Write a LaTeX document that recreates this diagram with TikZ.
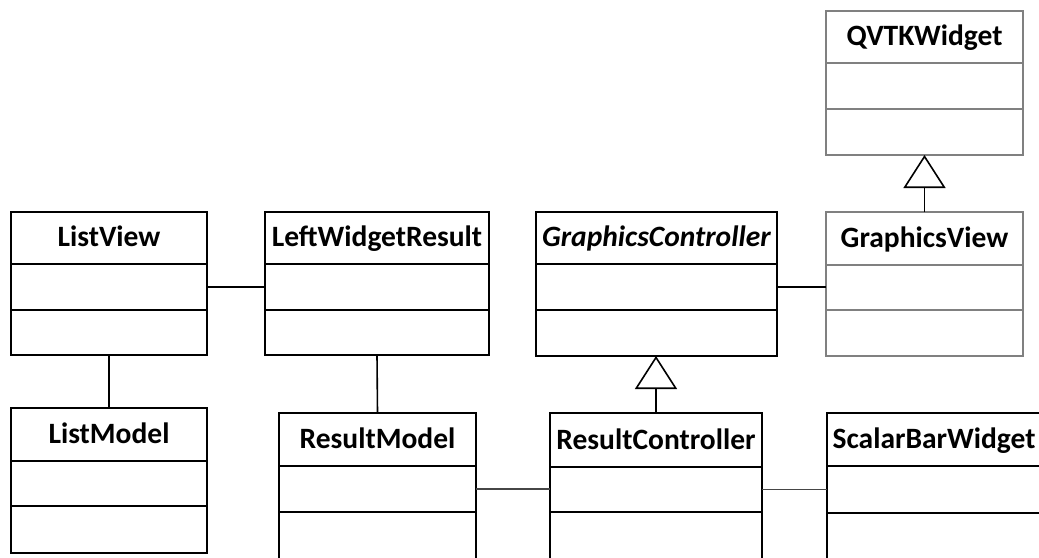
\documentclass[tikz,border=0pt]{standalone}
\usepackage{fontspec}
\setmainfont{Carlito}
\usetikzlibrary{arrows.meta,calc}
\definecolor{umlgray}{RGB}{128,128,128}
\definecolor{linkgray}{RGB}{70,70,70}
\tikzset{
  classbox/.style={draw=black, line width=2.6pt, fill=white, inner sep=0pt, outer sep=0pt},
  grayclass/.style={draw=umlgray},
  separator/.style={line width=2.2pt, draw=black},
  classtitle/.style={font=\bfseries\fontsize{29.5}{34}\selectfont, text=black,
    inner sep=0pt, anchor=base},
  assoc/.style={line width=1.6pt, draw=black},
  thinassoc/.style={line width=1.2pt, draw=linkgray},
  inherit/.style={line width=1.6pt, draw=black,
    -{Triangle[open, length=33pt, width=42pt, line width=1.6pt, fill=white]}},
}
% \umlclass{name}{left}{top}{right}{bottom}{sep1}{sep2}{title}{extra style}
\newcommand\umlclass[9]{%
  \node[classbox,#9, minimum width={(#4-#2)*1pt}, minimum height={(#5-#3)*1pt},
        anchor=north west] (#1) at (#2,#3) {};
  \draw[separator,#9] (#2,#6) -- (#4,#6) (#2,#7) -- (#4,#7);
  \node[classtitle] (#1-title) at ({(#2+#4)/2},{#6-17.5}) {#8};
  \coordinate (#1-attr) at ({(#2+#4)/2},{(#6+#7)/2});
}
\begin{document}
\begin{tikzpicture}[x=1pt,y=-1pt]
  \useasboundingbox (0,0) rectangle (1039,557);
  \clip (0,0) rectangle (1039,557);

  % class boxes
  \umlclass{ListView}{11}{212}{207}{355}{264}{310}{ListView}{}
  \umlclass{ListModel}{11}{408}{207}{553}{461}{506}{ListModel}{}
  \umlclass{LeftWidgetResult}{265}{212}{489}{355}{264}{310}{LeftWidgetResult}{}
  \umlclass{ResultModel}{279}{413}{476}{590}{466}{512}{ResultModel}{}
  \umlclass{GraphicsController}{536}{212}{777}{356}{264}{310}{\textit{GraphicsController}}{}
  \umlclass{ResultController}{550}{413}{762}{590}{467}{512}{ResultController}{}
  \umlclass{QVTKWidget}{826}{11}{1023}{155}{63}{109}{QVTKWidget}{grayclass}
  \umlclass{GraphicsView}{826}{212}{1023}{356}{265}{310}{GraphicsView}{grayclass}
  \umlclass{ScalarBarWidget}{827}{413}{1041}{590}{466}{513}{ScalarBarWidget}{}

  % associations
  \draw[assoc] (ListView.east |- ListView-attr) -- (LeftWidgetResult.west |- ListView-attr);
  \draw[assoc] (ListView.south) -- (ListModel.north);
  \draw[assoc] (LeftWidgetResult.south) -- (ResultModel.north);
  \draw[assoc] (GraphicsController.east |- GraphicsController-attr)
               -- (GraphicsView.west |- GraphicsController-attr);
  \draw[thinassoc] (ResultModel.east |- ResultModel-attr)
                   -- (ResultController.west |- ResultModel-attr);
  \draw[thinassoc] (ResultController.east |- ResultController-attr)
                   -- (ScalarBarWidget.west |- ResultController-attr);

  % generalizations
  \draw[inherit] (ResultController.north) -- (ResultController.north |- GraphicsController.south);
  \draw[inherit] (GraphicsView.north) -- (GraphicsView.north |- QVTKWidget.south);
\end{tikzpicture}
\end{document}
